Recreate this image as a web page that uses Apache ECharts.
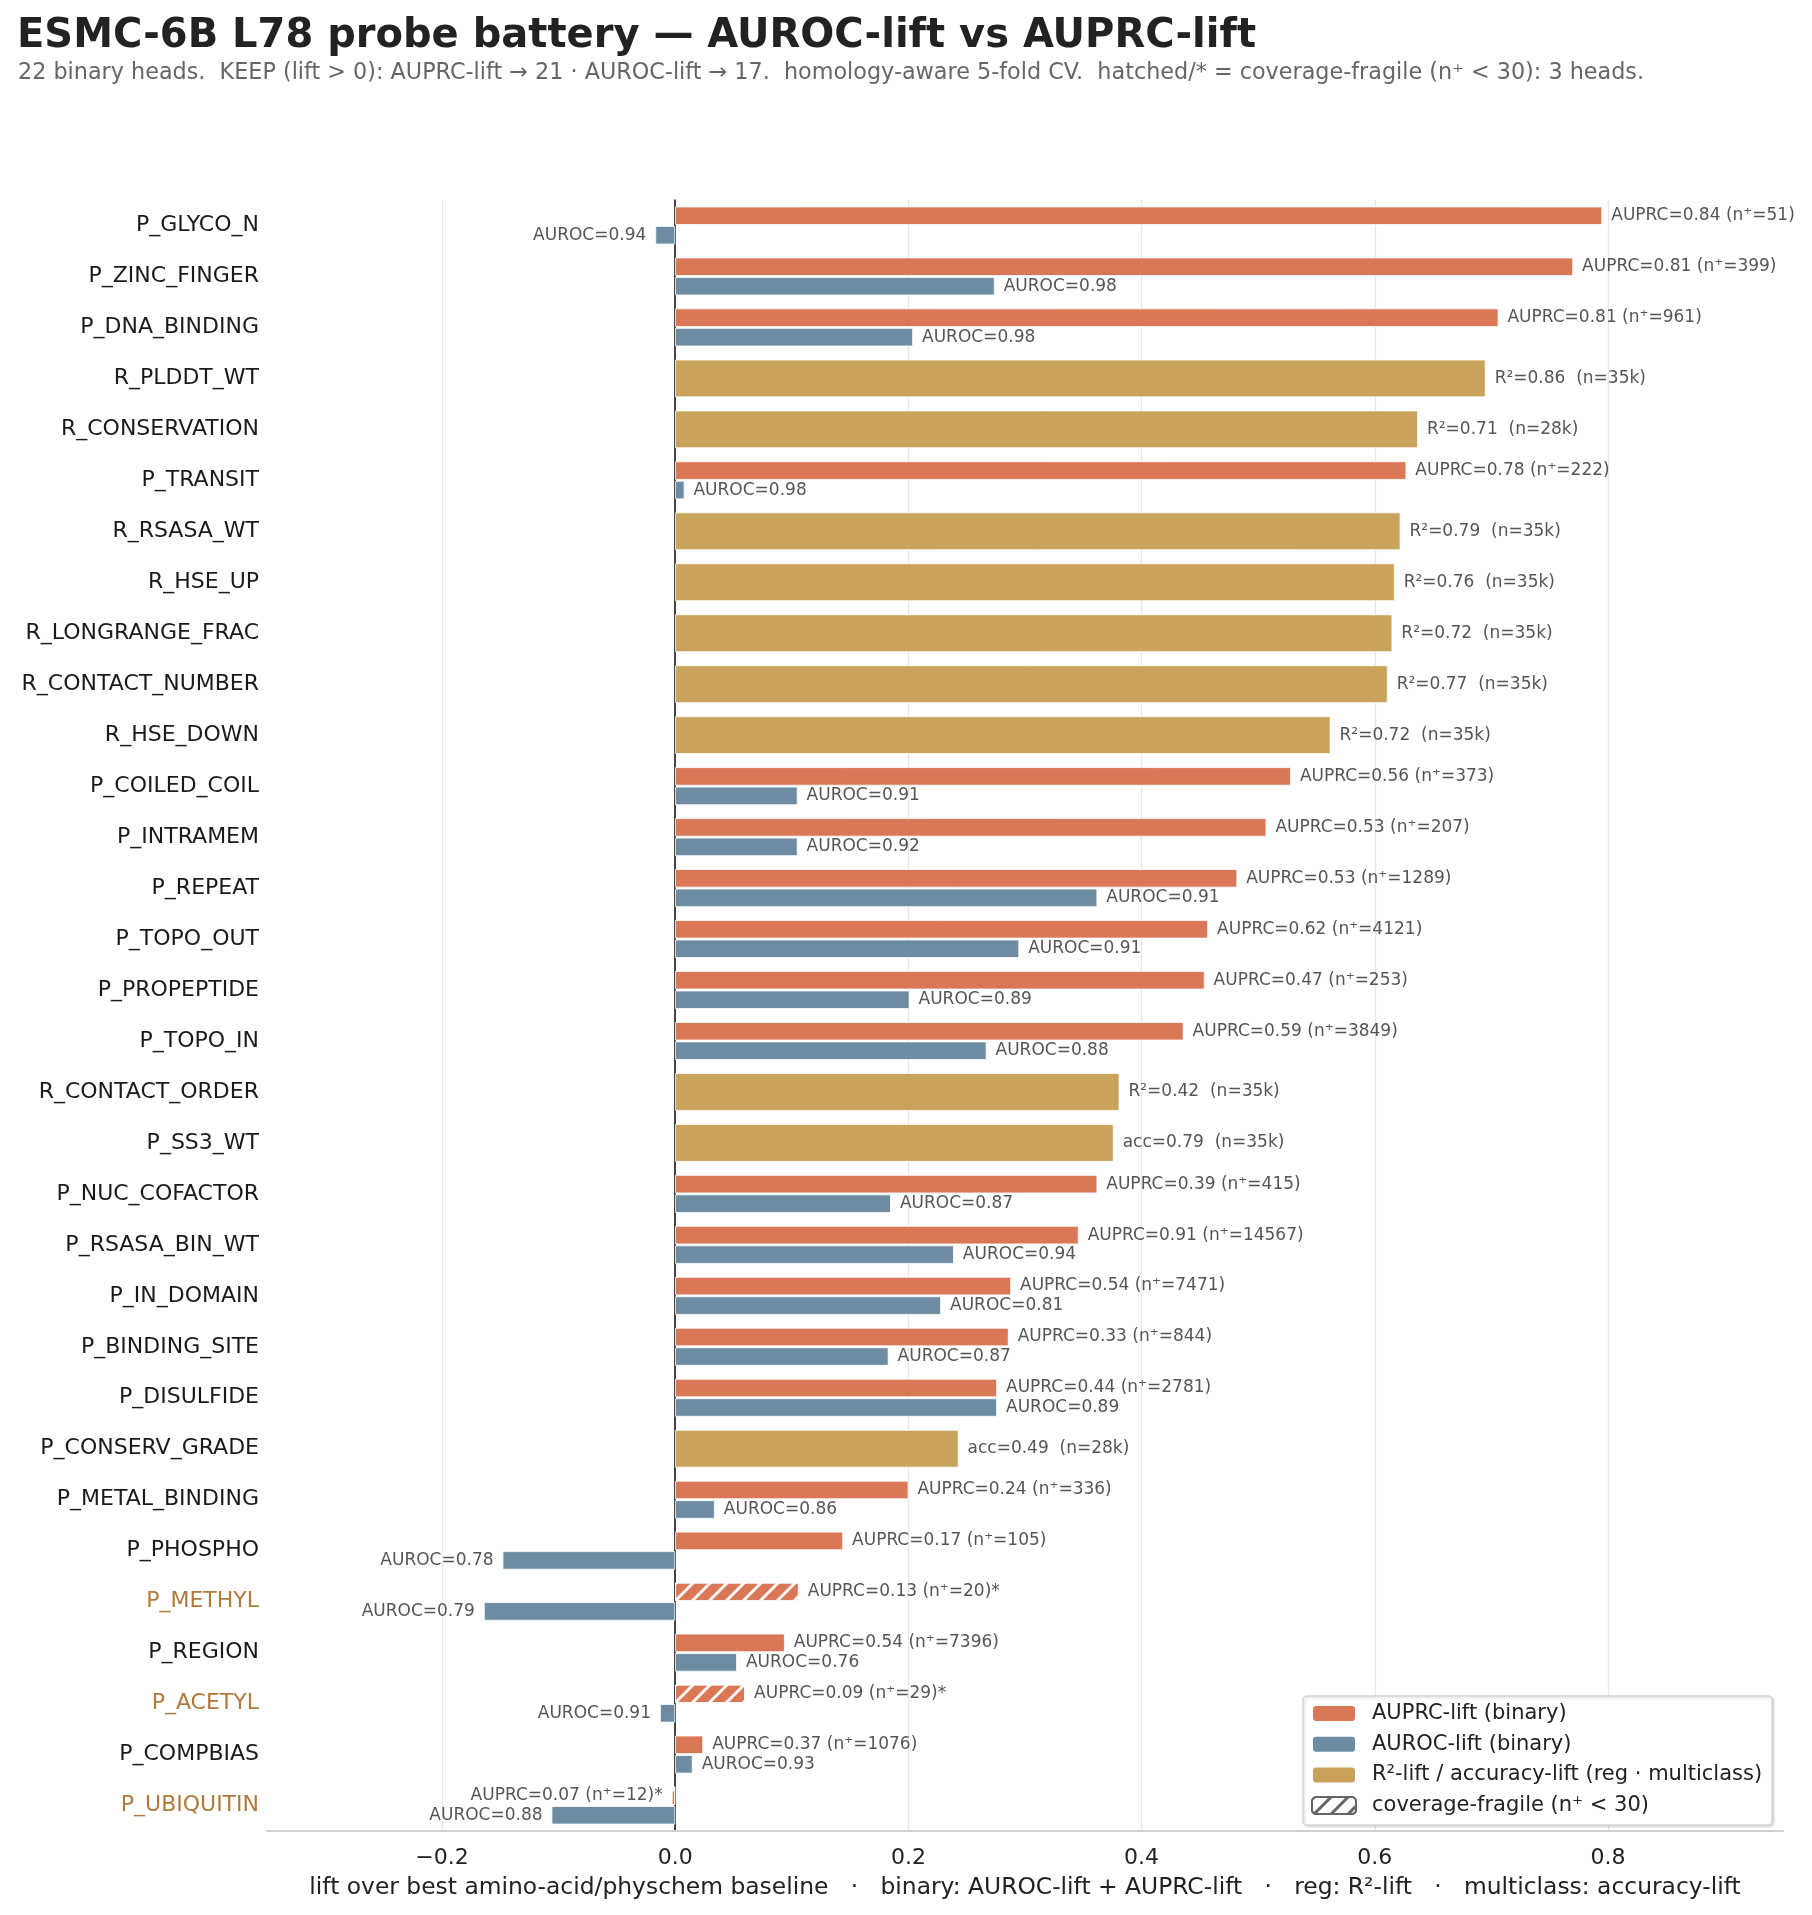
<!DOCTYPE html>
<html><head><meta charset="utf-8">
<script src="https://cdn.jsdelivr.net/npm/echarts@6/dist/echarts.min.js"></script>
<style>html,body{margin:0;padding:0;background:#fff}#chart{width:1812px;height:1915px}</style>
</head><body><div id="chart"></div>
<script>
const categories = ['P_GLYCO_N','P_ZINC_FINGER','P_DNA_BINDING','R_PLDDT_WT','R_CONSERVATION','P_TRANSIT','R_RSASA_WT','R_HSE_UP','R_LONGRANGE_FRAC','R_CONTACT_NUMBER','R_HSE_DOWN','P_COILED_COIL','P_INTRAMEM','P_REPEAT','P_TOPO_OUT','P_PROPEPTIDE','P_TOPO_IN','R_CONTACT_ORDER','P_SS3_WT','P_NUC_COFACTOR','P_RSASA_BIN_WT','P_IN_DOMAIN','P_BINDING_SITE','P_DISULFIDE','P_CONSERV_GRADE','P_METAL_BINDING','P_PHOSPHO','P_METHYL','P_REGION','P_ACETYL','P_COMPBIAS','P_UBIQUITIN'];
const auprcLift = [0.795,0.770,0.706,null,null,0.627,null,null,null,null,null,0.528,0.507,0.482,0.457,0.454,0.436,null,null,0.362,0.346,0.288,0.286,0.276,null,0.200,0.144,0.106,0.094,0.060,0.024,-0.003];
const aurocLift = [-0.017,0.274,0.204,null,null,0.008,null,null,null,null,null,0.105,0.105,0.362,0.295,0.201,0.267,null,null,0.185,0.239,0.228,0.183,0.276,null,0.034,-0.148,-0.164,0.053,-0.013,0.015,-0.106];
const regLift = [null,null,null,0.695,0.637,null,0.622,0.617,0.615,0.611,0.562,null,null,null,null,null,null,0.381,0.376,null,null,null,null,null,0.243,null,null,null,null,null,null,null];
const auprcLabel = ['AUPRC=0.84 (n⁺=51)','AUPRC=0.81 (n⁺=399)','AUPRC=0.81 (n⁺=961)',null,null,'AUPRC=0.78 (n⁺=222)',null,null,null,null,null,'AUPRC=0.56 (n⁺=373)','AUPRC=0.53 (n⁺=207)','AUPRC=0.53 (n⁺=1289)','AUPRC=0.62 (n⁺=4121)','AUPRC=0.47 (n⁺=253)','AUPRC=0.59 (n⁺=3849)',null,null,'AUPRC=0.39 (n⁺=415)','AUPRC=0.91 (n⁺=14567)','AUPRC=0.54 (n⁺=7471)','AUPRC=0.33 (n⁺=844)','AUPRC=0.44 (n⁺=2781)',null,'AUPRC=0.24 (n⁺=336)','AUPRC=0.17 (n⁺=105)','AUPRC=0.13 (n⁺=20)*','AUPRC=0.54 (n⁺=7396)','AUPRC=0.09 (n⁺=29)*','AUPRC=0.37 (n⁺=1076)','AUPRC=0.07 (n⁺=12)*'];
const aurocLabel = ['AUROC=0.94','AUROC=0.98','AUROC=0.98',null,null,'AUROC=0.98',null,null,null,null,null,'AUROC=0.91','AUROC=0.92','AUROC=0.91','AUROC=0.91','AUROC=0.89','AUROC=0.88',null,null,'AUROC=0.87','AUROC=0.94','AUROC=0.81','AUROC=0.87','AUROC=0.89',null,'AUROC=0.86','AUROC=0.78','AUROC=0.79','AUROC=0.76','AUROC=0.91','AUROC=0.93','AUROC=0.88'];
const regLabel = [null,null,null,'R²=0.86  (n=35k)','R²=0.71  (n=28k)',null,'R²=0.79  (n=35k)','R²=0.76  (n=35k)','R²=0.72  (n=35k)','R²=0.77  (n=35k)','R²=0.72  (n=35k)',null,null,null,null,null,null,'R²=0.42  (n=35k)','acc=0.79  (n=35k)',null,null,null,null,null,'acc=0.49  (n=28k)',null,null,null,null,null,null,null];
const fragileHeads = ['P_METHYL','P_ACETYL','P_UBIQUITIN'];
const xTicks = [-0.2, 0.0, 0.2, 0.4, 0.6, 0.8];

const FONT = 'DejaVu Sans';
const C_AUPRC = '#d97757', C_AUROC = '#6d8ca1', C_REG = '#c9a35b', C_FRAG = '#b07a3a';
const hatch = (col) => ({symbol:'rect', symbolSize:1, color:col, dashArrayX:[1,0], dashArrayY:[2.2,8.5], rotation:-Math.PI/4});

function items(vals, labels, fragileHatch) {
  return vals.map((v, i) => {
    if (v === null) return '-';
    const it = {value: v, label: {formatter: labels[i]}};
    if (fragileHatch && fragileHeads.includes(categories[i])) it.itemStyle = {decal: hatch('rgba(255,255,255,0.95)')};
    return it;
  });
}
const barLabel = {show:true, position:'outside', distance:9, color:'#555', fontSize:17, fontFamily:FONT};

const chart = echarts.init(document.getElementById('chart'), null, {renderer:'canvas'});
const yBase = {type:'category', data:categories, inverse:true, gridIndex:0};
chart.setOption({
  animation:false,
  backgroundColor:'#fff',
  title:[
    {text:'ESMC-6B L78 probe battery — AUROC-lift vs AUPRC-lift', left:12, top:12,
     textStyle:{fontFamily:FONT, fontSize:40, fontWeight:'bold', color:'#222'}},
    {text:'22 binary heads.  KEEP (lift > 0): AUPRC-lift → 21 · AUROC-lift → 17.  homology-aware 5-fold CV.  hatched/* = coverage-fragile (n⁺ < 30): 3 heads.',
     left:13, top:57, textStyle:{fontFamily:FONT, fontSize:22.3, fontWeight:'normal', color:'#666'}}
  ],
  grid:{left:267, right:29, top:200, height:1631},
  legend:{
    orient:'vertical', left:1303, top:1696, itemWidth:44, itemHeight:17, itemGap:9.7,
    padding:[7,10,9,8], backgroundColor:'#fff', borderColor:'#d3d3d3', borderWidth:1.5, borderRadius:4,
    shadowColor:'rgba(0,0,0,0.12)', shadowBlur:2, shadowOffsetX:1.5, shadowOffsetY:1.5,
    textStyle:{fontFamily:FONT, fontSize:21, color:'#222', padding:[0,0,0,11]},
    data:['AUPRC-lift (binary)','AUROC-lift (binary)','R²-lift / accuracy-lift (reg · multiclass)','coverage-fragile (n⁺ < 30)']
  },
  xAxis:{
    type:'value', min:-0.35, max:0.95, position:'bottom',
    axisLine:{show:true, onZero:false, lineStyle:{color:'#cfcfcf', width:2}},
    axisTick:{show:false, customValues:xTicks},
    axisLabel:{customValues:xTicks, fontFamily:FONT, fontSize:22, color:'#222', margin:16,
      formatter:v => (v < 0 ? '−' : '') + Math.abs(v).toFixed(1)},
    splitLine:{show:true, lineStyle:{color:'#e6e6e6', width:1.3}},
    name:'lift over best amino-acid/physchem baseline   ·   binary: AUROC-lift + AUPRC-lift   ·   reg: R²-lift   ·   multiclass: accuracy-lift',
    nameLocation:'middle', nameGap:45, nameTextStyle:{fontFamily:FONT, fontSize:23.4, color:'#222'}
  },
  yAxis:[
    Object.assign({}, yBase, {
      axisLine:{show:false, onZero:false}, axisTick:{show:false}, splitLine:{show:false},
      axisLabel:{fontFamily:FONT, fontSize:22, margin:8,
        color:(v) => fragileHeads.includes(v) ? C_FRAG : '#1a1a1a'}
    }),
    Object.assign({}, yBase, {
      show:true, axisLine:{show:true, onZero:true, lineStyle:{color:'#1a1a1a', width:1.6}},
      axisTick:{show:false}, axisLabel:{show:false}, splitLine:{show:false}
    }),
    Object.assign({}, yBase, {show:false})
  ],
  series:[
    {name:'AUPRC-lift (binary)', type:'bar', yAxisIndex:0, barWidth:18.4, barGap:'6%',
     itemStyle:{color:C_AUPRC, borderColor:'#fff', borderWidth:0.8}, label:barLabel,
     data:items(auprcLift, auprcLabel, true)},
    {name:'AUROC-lift (binary)', type:'bar', yAxisIndex:0, barWidth:18.4, barGap:'6%',
     itemStyle:{color:C_AUROC, borderColor:'#fff', borderWidth:0.8}, label:barLabel,
     data:items(aurocLift, aurocLabel, false)},
    {name:'R²-lift / accuracy-lift (reg · multiclass)', type:'bar', yAxisIndex:1, barWidth:37.7,
     itemStyle:{color:C_REG, borderColor:'#fff', borderWidth:0.8}, label:barLabel,
     data:items(regLift, regLabel, false)},
    {name:'coverage-fragile (n⁺ < 30)', type:'bar', yAxisIndex:2, barWidth:10,
     itemStyle:{color:'#fff', borderColor:'#666', borderWidth:2, decal:hatch('#666')},
     data:[]}
  ]
});
</script></body></html>
